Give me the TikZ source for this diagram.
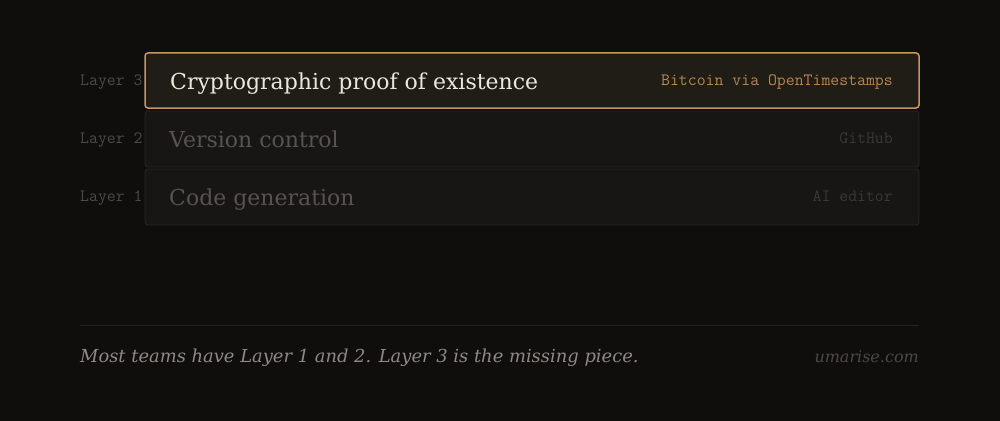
\documentclass[tikz,border=0pt]{standalone}
\usepackage{fontspec}
\setmainfont{DejaVu Serif}
\newfontfamily\monof{Latin Modern Mono}
\definecolor{bg}{HTML}{0F0E0D}
\definecolor{accent}{HTML}{C8965A}
\definecolor{accenttext}{HTML}{B8864F}
\definecolor{hifill}{HTML}{201C16}
\definecolor{lofill}{HTML}{171615}
\definecolor{loborder}{HTML}{272523}
\definecolor{hititle}{HTML}{EDE7DB}
\definecolor{lotitle}{HTML}{57534F}
\definecolor{lotag}{HTML}{3A3835}
\definecolor{layerlab}{HTML}{4D4A46}
\definecolor{rule}{HTML}{252321}
\definecolor{foot}{HTML}{8E8982}
\definecolor{site}{HTML}{4C4844}
\tikzset{
  hibox/.style={draw=accent, line width=1.5pt, fill=hifill, rounded corners=3pt},
  lobox/.style={draw=loborder, line width=0.9pt, fill=lofill, rounded corners=3pt},
  layerlabel/.style={anchor=base west, inner sep=0, text=layerlab, font=\monof\fontsize{17.3}{19}\selectfont},
  title/.style={anchor=base west, inner sep=0, font=\fontsize{22}{24}\selectfont},
  tag/.style={anchor=base east, inner sep=0, font=\monof\fontsize{17.3}{19}\selectfont},
}
\begin{document}
\begin{tikzpicture}[x=1pt,y=-1pt]
\useasboundingbox (0,0) rectangle (1000,420);
\fill[bg] (-2,-2) rectangle (1002,422);
% layer labels
\node[layerlabel] (l3) at (80,85) {Layer 3};
\node[layerlabel] (l2) at (80,143) {Layer 2};
\node[layerlabel] (l1) at (80,201) {Layer 1};
% boxes
\draw[lobox] (145,169) rectangle (919,225);
\draw[lobox] (145,111) rectangle (919,167);
\draw[hibox] (145,53) rectangle (919,108);
% titles
\node[title, text=hititle] (t3) at (170,89) {Cryptographic proof of existence};
\node[title, text=lotitle] (t2) at (169,147) {Version control};
\node[title, text=lotitle] (t1) at (169,205) {Code generation};
% tags
\node[tag, text=accenttext] (g3) at (893,85) {Bitcoin via OpenTimestamps};
\node[tag, text=lotag] (g2) at (893,143) {GitHub};
\node[tag, text=lotag] (g1) at (893,201) {AI editor};
% footer
\coordinate (ra) at (80,325.5);
\coordinate (rb) at (919,325.5);
\draw[rule, line width=0.9pt] (ra) -- (rb);
\node[anchor=base west, inner sep=0, text=foot, font=\itshape\fontsize{17.9}{20}\selectfont] (note) at (80,362.5) {Most teams have Layer 1 and 2. Layer 3 is the missing piece.};
\node[anchor=base east, inner sep=0, text=site, font=\itshape\fontsize{16}{18}\selectfont] (site) at (919,362) {umarise.com};
\end{tikzpicture}
\end{document}
